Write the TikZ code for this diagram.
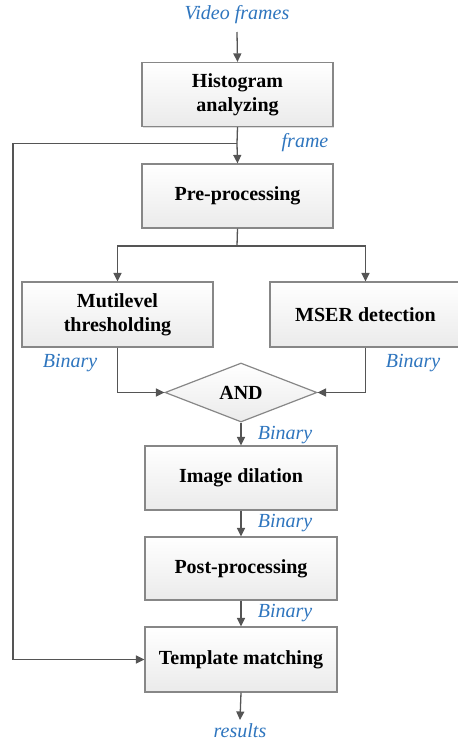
\documentclass[tikz,border=0pt]{standalone}
\usepackage{fontspec}
\setmainfont{Liberation Serif}
\usetikzlibrary{shapes.geometric,shadows,arrows.meta}
\definecolor{lblue}{RGB}{46,117,190}
\definecolor{lnc}{RGB}{85,85,85}
\definecolor{bdr}{RGB}{135,135,135}
\begin{document}
\begin{tikzpicture}[x=1pt,y=-1pt,
  procbox/.style={draw=bdr,line width=1.2pt,top color=white,bottom color=black!8,
    drop shadow={shadow xshift=1.2pt,shadow yshift=-1.2pt,fill=black!22,opacity=0.6},
    minimum width=191pt,minimum height=64pt,inner sep=0pt,align=center,
    font=\fontsize{20}{24}\selectfont\bfseries},
  andbox/.style={diamond,draw=bdr,line width=1.2pt,top color=white,bottom color=black!8,
    minimum width=152pt,minimum height=59pt,inner sep=0pt,
    font=\fontsize{20}{24}\selectfont\bfseries},
  lbl/.style={text=lblue,font=\fontsize{20}{22}\selectfont\itshape,inner sep=0pt},
  conn/.style={draw=lnc,line width=1.3pt},
  arr/.style={conn,-{Triangle[length=8.5pt,width=8pt]}}
]
\useasboundingbox (0,0) rectangle (458,742);
\node[lbl] (vf) at (237,15) {Video frames};
\node[procbox] (hist) at (237.5,94.5) {Histogram\\analyzing};
\node[procbox] (pre) at (237.5,196) {Pre-processing};
\node[procbox,minimum height=65pt] (mut) at (117.5,314.5) {Mutilevel\\thresholding};
\node[procbox,minimum height=65pt] (mser) at (365.5,314.5) {MSER detection};
\node[andbox] (and) at (241,392.5) {AND};
\node[procbox,minimum width=192pt] (dil) at (241,478) {Image dilation};
\node[procbox,minimum width=192pt,minimum height=63pt] (post) at (241,568.5) {Post-processing};
\node[procbox,minimum width=192pt,minimum height=65pt] (tm) at (241,659.5) {Template matching};
\node[lbl] (res) at (240,731) {results};
\node[lbl] (fr) at (305,143) {frame};
\node[lbl] (b1) at (70,363) {Binary};
\node[lbl] (b2) at (413,363) {Binary};
\node[lbl] (b3) at (285,435) {Binary};
\node[lbl] (b4) at (285,523) {Binary};
\node[lbl] (b5) at (285,613) {Binary};
\coordinate (split1) at (237,143.5);
\coordinate (split2) at (237,246);
\coordinate (lt) at (13,143.5);
\coordinate (lb) at (13,659.5);
\coordinate (vfend) at (237,32);
\coordinate (resend) at (240,720);
\draw[arr] (vfend) -- (hist.north);
\draw[conn] (hist.south) -- (split1);
\draw[arr] (split1) -- (pre.north);
\draw[conn] (split1) -- (lt) -- (lb);
\draw[arr] (lb) -- (tm.west);
\draw[conn] (pre.south) -- (split2);
\draw[arr] (split2) -| (mut.north);
\draw[arr] (split2) -| (mser.north);
\draw[arr] (mut.south) |- (and.west);
\draw[arr] (mser.south) |- (and.east);
\draw[arr] (and.south) -- (dil.north);
\draw[arr] (dil.south) -- (post.north);
\draw[arr] (post.south) -- (tm.north);
\draw[arr] (tm.south) -- (resend);
\end{tikzpicture}
\end{document}
